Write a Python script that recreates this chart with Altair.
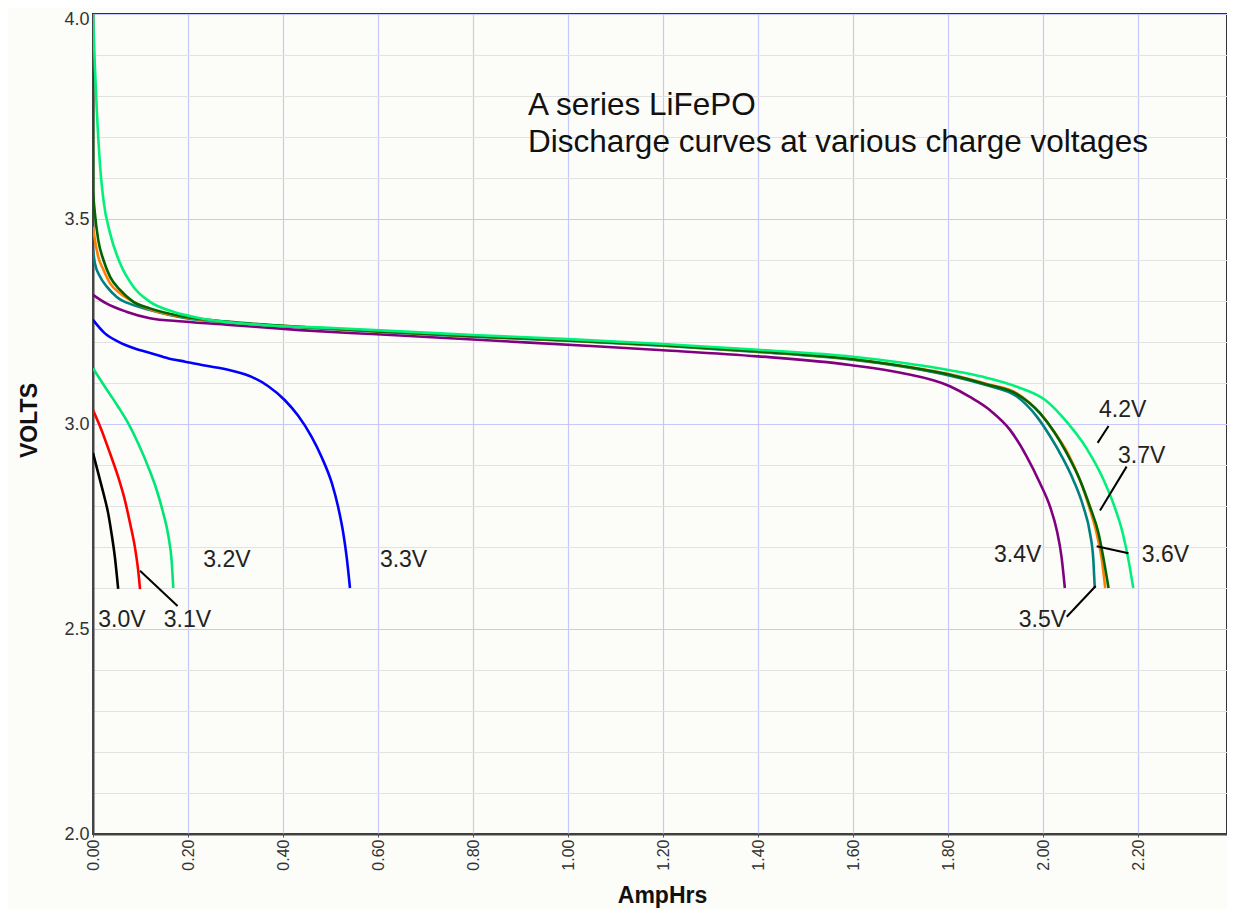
import altair as alt
import pandas as pd

# ---------------- data ----------------
series_order = ["3.0V", "3.1V", "3.2V", "3.3V", "3.4V", "3.5V", "3.6V", "3.7V", "4.2V"]
series_colors = ["#000000", "#ff0000", "#00e676", "#0000ff", "#800080",
                 "#008080", "#ff8000", "#006400", "#00f07a"]

amphrs_30 = [0.0, 0.011, 0.022, 0.032, 0.039, 0.046, 0.053]
volts_30 = [2.929, 2.880, 2.831, 2.782, 2.733, 2.676, 2.598]

amphrs_31 = [0.0, 0.018, 0.036, 0.053, 0.067, 0.078, 0.088, 0.095, 0.099]
volts_31 = [3.034, 2.985, 2.928, 2.871, 2.815, 2.758, 2.701, 2.644, 2.597]

amphrs_32 = [0.0, 0.025, 0.053, 0.074, 0.095, 0.116, 0.134, 0.148, 0.159, 0.166, 0.169]
volts_32 = [3.136, 3.091, 3.042, 3.002, 2.953, 2.896, 2.839, 2.782, 2.725, 2.660, 2.600]

amphrs_33 = [0.0, 0.025, 0.053, 0.088, 0.124, 0.159, 0.194, 0.229, 0.264, 0.299, 0.334,
             0.369, 0.404, 0.432, 0.460, 0.481, 0.503, 0.516, 0.527, 0.534, 0.541]
volts_33 = [3.254, 3.221, 3.201, 3.184, 3.172, 3.160, 3.152, 3.144, 3.137, 3.128, 3.115,
            3.092, 3.058, 3.020, 2.969, 2.920, 2.855, 2.798, 2.733, 2.676, 2.600]

amphrs_34 = [0.0, 0.028, 0.070, 0.120, 0.190, 0.295, 0.436, 0.541, 0.646, 0.800, 1.067,
             1.200, 1.400, 1.594, 1.700, 1.804, 1.846, 1.888, 1.931, 1.966, 1.994, 2.015,
             2.029, 2.039, 2.046]
volts_34 = [3.315, 3.294, 3.274, 3.258, 3.250, 3.241, 3.229, 3.222, 3.216, 3.206, 3.189,
            3.180, 3.165, 3.144, 3.125, 3.092, 3.066, 3.034, 2.985, 2.920, 2.855, 2.798,
            2.741, 2.676, 2.600]

amphrs_35 = [0.0, 0.004, 0.015, 0.029, 0.050, 0.085, 0.120, 0.190, 0.300, 0.450, 0.600,
             0.800, 1.000, 1.200, 1.400, 1.600, 1.700, 1.804, 1.880, 1.945, 1.987, 2.015,
             2.040, 2.064, 2.085, 2.099, 2.106, 2.109]
volts_35 = [3.424, 3.392, 3.359, 3.335, 3.310, 3.290, 3.278, 3.259, 3.246, 3.235, 3.225,
            3.213, 3.203, 3.191, 3.176, 3.157, 3.141, 3.118, 3.095, 3.067, 3.018, 2.970,
            2.920, 2.863, 2.798, 2.733, 2.668, 2.600]

amphrs_36 = [0.0, 0.004, 0.011, 0.022, 0.036, 0.057, 0.085, 0.120, 0.190, 0.300, 0.450,
             0.600, 0.800, 1.000, 1.200, 1.400, 1.600, 1.700, 1.804, 1.880, 1.945, 1.994,
             2.024, 2.052, 2.078, 2.097, 2.113, 2.124, 2.131]
volts_36 = [3.481, 3.449, 3.408, 3.376, 3.343, 3.319, 3.298, 3.280, 3.261, 3.247, 3.236,
            3.226, 3.214, 3.204, 3.192, 3.177, 3.158, 3.142, 3.121, 3.098, 3.075, 3.026,
            2.980, 2.929, 2.863, 2.798, 2.733, 2.668, 2.600]

amphrs_37 = [0.0, 0.0005, 0.004, 0.011, 0.022, 0.036, 0.057, 0.085, 0.120, 0.190, 0.300,
             0.450, 0.600, 0.800, 1.000, 1.200, 1.400, 1.600, 1.700, 1.804, 1.880, 1.945,
             1.994, 2.024, 2.050, 2.078, 2.099, 2.117, 2.128, 2.138]
volts_37 = [3.890, 3.567, 3.514, 3.449, 3.400, 3.359, 3.327, 3.298, 3.282, 3.262, 3.248,
            3.236, 3.226, 3.214, 3.204, 3.192, 3.177, 3.158, 3.142, 3.120, 3.097, 3.073,
            3.026, 2.980, 2.929, 2.863, 2.798, 2.733, 2.668, 2.600]

amphrs_42 = [0.0, 0.004, 0.008, 0.015, 0.022, 0.036, 0.057, 0.085, 0.120, 0.169, 0.226,
             0.366, 0.505, 0.646, 0.800, 1.000, 1.200, 1.400, 1.600, 1.700, 1.804, 1.874,
             1.945, 2.004, 2.050, 2.092, 2.125, 2.150, 2.168, 2.180, 2.190]
volts_42 = [4.000, 3.871, 3.766, 3.628, 3.546, 3.465, 3.392, 3.335, 3.298, 3.274, 3.258,
            3.241, 3.234, 3.226, 3.217, 3.207, 3.195, 3.181, 3.164, 3.150, 3.131, 3.115,
            3.091, 3.059, 3.005, 2.940, 2.870, 2.800, 2.733, 2.668, 2.600]

# curve labels (anchor = left end of text, on the baseline)
label_text = ["3.0V", "3.1V", "3.2V", "3.3V", "3.4V", "3.5V", "3.6V", "3.7V", "4.2V"]
label_amphrs = [0.011, 0.149, 0.232, 0.604, 1.897, 1.949, 2.208, 2.158, 2.118]
label_volts = [2.505, 2.505, 2.651, 2.651, 2.663, 2.505, 2.663, 2.905, 3.017]

# leader lines from labels to curves
leader_x1 = [0.099, 2.050, 2.113, 2.176, 2.138]
leader_y1 = [2.642, 2.530, 2.702, 2.896, 2.995]
leader_x2 = [0.178, 2.111, 2.180, 2.120, 2.115]
leader_y2 = [2.556, 2.605, 2.685, 2.789, 2.954]

title_lines = ["A series LiFePO", "Discharge curves at various charge voltages"]
title_amphrs = [0.916, 0.916]
title_volts = [3.754, 3.663]

x_ticks = [0.0, 0.2, 0.4, 0.6, 0.8, 1.0, 1.2, 1.4, 1.6, 1.8, 2.0, 2.2]
y_ticks = [2.0, 2.1, 2.2, 2.3, 2.4, 2.5, 2.6, 2.7, 2.8, 2.9, 3.0,
           3.1, 3.2, 3.3, 3.4, 3.5, 3.6, 3.7, 3.8, 3.9, 4.0]

# ---------------- build tables ----------------
all_x = [amphrs_30, amphrs_31, amphrs_32, amphrs_33, amphrs_34, amphrs_35, amphrs_36, amphrs_37, amphrs_42]
all_y = [volts_30, volts_31, volts_32, volts_33, volts_34, volts_35, volts_36, volts_37, volts_42]
rows = []
for name, xs, ys in zip(series_order, all_x, all_y):
    for i, (a, v) in enumerate(zip(xs, ys)):
        rows.append({"series": name, "AmpHrs": a, "Volts": v, "idx": i})
df = pd.DataFrame(rows)

labels_df = pd.DataFrame({"text": label_text, "AmpHrs": label_amphrs, "Volts": label_volts})
leaders_df = pd.DataFrame({"AmpHrs": leader_x1, "Volts": leader_y1, "x2": leader_x2, "y2": leader_y2})
title_df = pd.DataFrame({"text": title_lines, "AmpHrs": title_amphrs, "Volts": title_volts})

FONT = "Liberation Sans"
half_test = "abs(datum.value * 2 - round(datum.value * 2)) < 0.001"
top_test = "datum.value > 3.95"

PLOT_W = 1134
PLOT_H = 820
X_MAX = 2.4 * PLOT_W / 1140  # keep the reference's 475 px per AmpHr

x_scale = alt.Scale(domain=[0, X_MAX], nice=False, zero=False)
y_scale = alt.Scale(domain=[2.0, 4.0], nice=False, zero=False)

x_axis = alt.Axis(
    values=x_ticks, format=".2f", labelAngle=270, labelAlign="right", labelBaseline="middle",
    labelFontSize=16, labelColor="#333333", labelFont=FONT, labelPadding=2,
    tickSize=3, tickColor="#555555",
    grid=True, gridColor="#c8c8ff", gridWidth=1.2,
    domainColor="#444444", domainWidth=2,
    title="AmpHrs", titleFont=FONT, titleFontSize=23, titleFontWeight="bold",
    titleColor="#111111", titleX=569, titleY=68, titleBaseline="alphabetic", titleAlign="center",
)
y_axis = alt.Axis(
    values=y_ticks,
    labelExpr=f"{half_test} ? format(datum.value, '.1f') : ''",
    labelFontSize=18, labelColor="#333333", labelFont=FONT, labelPadding=4,
    labelBaseline={"condition": {"test": top_test, "value": "top"}, "value": "middle"},
    labelOffset={"condition": {"test": top_test, "value": -4}, "value": 0},
    ticks=False,
    grid=True,
    gridColor={"condition": {"test": half_test, "value": "#c8c8ff"}, "value": "#e2e2e2"},
    gridWidth=1.2,
    domainColor="#444444", domainWidth=2,
    title="VOLTS", titleFont=FONT, titleFontSize=23, titleFontWeight="bold",
    titleColor="#111111", titleX=-57, titleY=406, titleAngle=270,
    titleBaseline="alphabetic", titleAlign="center",
)

X = alt.X("AmpHrs:Q", scale=x_scale, axis=x_axis)
Y = alt.Y("Volts:Q", scale=y_scale, axis=y_axis)

base = alt.Chart(df)
layers = []
for name, color in zip(series_order, series_colors):
    layers.append(
        base.transform_filter(alt.datum.series == name)
        .mark_line(color=color, strokeWidth=2.6, interpolate="monotone", clip=True)
        .encode(x=X, y=Y, order="idx:Q")
    )

leaders = alt.Chart(leaders_df).mark_rule(color="#000000", strokeWidth=2).encode(
    x=X, y=Y, x2="x2:Q", y2="y2:Q",
)

labels = alt.Chart(labels_df).mark_text(
    font=FONT, fontSize=23, color="#222222", align="left", baseline="alphabetic"
).encode(x=X, y=Y, text="text:N")

title = alt.Chart(title_df).mark_text(
    font=FONT, fontSize=31.5, color="#111111", align="left", baseline="alphabetic"
).encode(x=X, y=Y, text="text:N")

chart = alt.layer(*layers, leaders, labels, title).properties(
    width=PLOT_W,
    height=PLOT_H,
    autosize=alt.AutoSizeParams(type="none"),
    padding={"left": 85, "top": 6, "right": 0, "bottom": 75},
    background="#fcfcf8",
).configure_view(
    stroke="#333333", strokeWidth=2, fill="#fcfcf8"
)

chart.save("out.html", embed_options={"renderer": "svg", "actions": False})
